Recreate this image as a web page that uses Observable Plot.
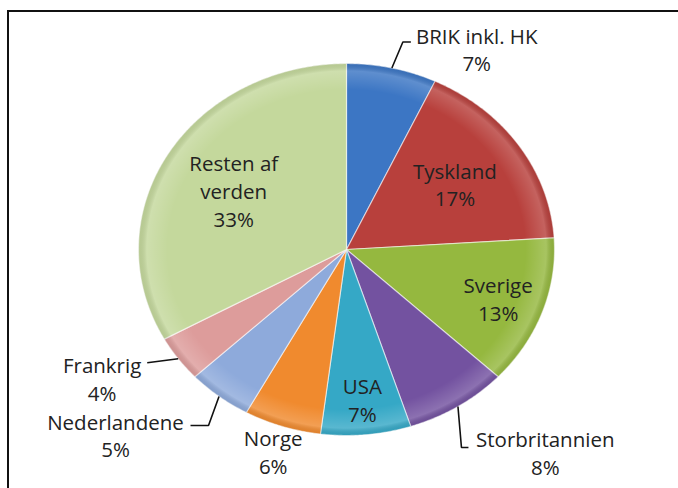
<!DOCTYPE html>
<html><head><meta charset="utf-8">
<script src="https://cdn.jsdelivr.net/npm/d3@7"></script>
<script src="https://cdn.jsdelivr.net/npm/@observablehq/plot@0.6"></script>
<style>
html,body{margin:0;padding:0;background:#fff;}
#chart{position:absolute;left:0;top:0;}
#frame{position:absolute;left:7px;top:10px;width:671px;height:478px;border-top:2px solid #111;border-left:2px solid #111;pointer-events:none;}
</style></head><body>
<div id="chart"></div><div id="frame"></div>
<script>
// ---- data ----
const categories = ["BRIK inkl. HK","Tyskland","Sverige","Storbritannien","USA","Norge","Nederlandene","Frankrig","Resten af\nverden"];
const shares = [7,17,13,8,7,6,5,4,33];
const percentLabels = ["7%","17%","13%","8%","7%","6%","5%","4%","33%"];
const colors = ["#3c76c4","#b8403c","#95b83f","#7352a0","#35a8c6","#f08a2e","#8eaadb","#dd9c9b","#c4d89c"];

// ---- layout (not data) ----
const W = 678, H = 488;
const cx = 346, cy = 249, rx = 208, ry = 186;
const labelR = [1.107,0.63,0.775,1.29,0.81,1.14,1.259,1.176,0.63];
const labelShift = [[80,0],[0,0],[0,0],[55,0],[0,0],[0,0],[-70.5,0],[-46.5,0],[0,0]];
// leader: offsets of elbow and end from edge point (null = no leader)
const leaders = [[[11,-26],[19,-26]], null, null, [[3.5,41],[10.5,41]], null, null, [[-10.5,29],[-28.5,29]], [[-31,4],[-31,4]], null];

const arcs = d3.pie().sort(null).value(d => d)(shares);
const pt = (a, r = 1) => [cx + r * rx * Math.sin(a), cy - r * ry * Math.cos(a)];

const sliceRows = [];
arcs.forEach((a, i) => {
  const name = categories[i];
  sliceRows.push({name, x: cx, y: cy});
  const n = Math.max(4, Math.ceil((a.endAngle - a.startAngle) / 0.01));
  for (let k = 0; k <= n; k++) {
    const ang = a.startAngle + (a.endAngle - a.startAngle) * k / n;
    const [x, y] = pt(ang);
    sliceRows.push({name, x, y});
  }
});

const labelRows = arcs.map((a, i) => {
  const mid = (a.startAngle + a.endAngle) / 2;
  const [x, y] = pt(mid, labelR[i]);
  return {x: x + labelShift[i][0], y: y + labelShift[i][1], text: categories[i] + "\n" + percentLabels[i]};
});

const leaderRows = [];
arcs.forEach((a, i) => {
  if (!leaders[i]) return;
  const mid = (a.startAngle + a.endAngle) / 2;
  const [x0, y0] = pt(mid);
  leaderRows.push({id: i, x: x0, y: y0});
  leaders[i].forEach(([dx, dy]) => leaderRows.push({id: i, x: x0 + dx, y: y0 + dy}));
});

const chart = Plot.plot({
  width: W, height: H,
  margin: 0,
  x: {domain: [0, W], range: [0, W], axis: null},
  y: {domain: [0, H], range: [0, H], axis: null},
  color: {domain: categories, range: colors},
  style: {background: "white"},
  marks: [
    Plot.line(sliceRows, {x: "x", y: "y", z: "name", fill: "name", stroke: "#ffffff", strokeOpacity: 0.55, strokeWidth: 1.2, curve: "linear-closed"}),
    Plot.line(sliceRows, {x: "x", y: "y", z: "name", fill: "url(#rim)", stroke: "none", curve: "linear-closed"}),
    Plot.line(leaderRows, {x: "x", y: "y", z: "id", stroke: "#111", strokeWidth: 1.6, strokeLinecap: "butt", strokeLinejoin: "miter"}),
    Plot.text(labelRows, {x: "x", y: "y", text: "text", textAnchor: "middle", lineAnchor: "middle", lineHeight: 1.36, fontSize: 20.5, fontFamily: "Open Sans", fill: "#222"})
  ]
});
const ns = "http://www.w3.org/2000/svg";
const defs = document.createElementNS(ns, "defs");
defs.innerHTML = `<radialGradient id="rim" gradientUnits="userSpaceOnUse" cx="${cx}" cy="${cy}" r="${rx}" gradientTransform="translate(${cx} ${cy}) scale(1 ${ry/rx}) translate(${-cx} ${-cy})">
  <stop offset="0" stop-color="#fff" stop-opacity="0"/>
  <stop offset="0.86" stop-color="#fff" stop-opacity="0"/>
  <stop offset="0.96" stop-color="#fff" stop-opacity="0.18"/>
  <stop offset="1" stop-color="#000" stop-opacity="0.06"/>
</radialGradient>`;
chart.insertBefore(defs, chart.firstChild);
document.getElementById("chart").appendChild(chart);
</script>
</body></html>
